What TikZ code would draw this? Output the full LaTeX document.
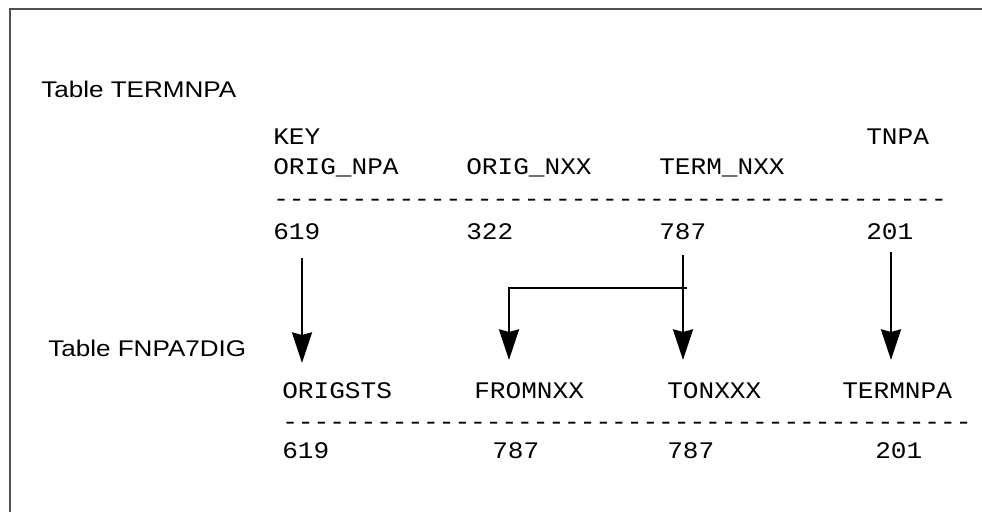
\documentclass[tikz,border=0pt]{standalone}
\usepackage{fontspec}
\usepackage{tikz}
\usetikzlibrary{arrows.meta, calc}
\newfontfamily\policetitre{Liberation Sans}[FakeStretch=1.15]
\newfontfamily\policecode{Liberation Mono}[FakeStretch=1.1]
\definecolor{cadregris}{HTML}{505050}
\newcommand\tirets[1]{\foreach \k in {1,...,#1}{-\kern0pt}}
\tikzset{
  titre/.style={anchor=base west, inner sep=0pt,
    font=\policetitre\fontsize{17pt}{20pt}\selectfont},
  champ/.style={anchor=base west, inner sep=0pt,
    font=\policecode\fontsize{17.8pt}{20pt}\selectfont},
  fleche/.style={-{Stealth[length=23pt, width=15pt, inset=2pt]}, line width=1.5pt},
  cadre/.style={line width=0.8pt, color=cadregris}
}

\begin{document}
\begin{tikzpicture}[x=0.75pt, y=-0.75pt]
    \useasboundingbox (0,0) rectangle (982,512);
    % Cadre
    \draw[cadre] (982,9) -- (10,9) -- (10,512);

    % Table TERMNPA
    \node[titre] (ttermnpa) at (41,97) {Table TERMNPA};
    \node[champ] (tkey) at (273,144) {KEY};
    \node[champ] (ttnpa) at (866,144) {TNPA};
    \node[champ] (torignpa) at (273,174) {ORIG\_NPA};
    \node[champ] (torignxx) at (466,174) {ORIG\_NXX};
    \node[champ] (ttermnxx) at (659,174) {TERM\_NXX};
    \node[champ] (ttirets) at (273,206) {\tirets{43}};
    \node[champ] (t619) at (273,239) {619};
    \node[champ] (t322) at (466,239) {322};
    \node[champ] (t787) at (659,239) {787};
    \node[champ] (t201) at (866,239) {201};

    % Table FNPA7DIG
    \node[titre] (tfnpa) at (48,356) {Table FNPA7DIG};
    \node[champ] (borigsts) at (282,398) {ORIGSTS};
    \node[champ] (bfromnxx) at (474,398) {FROMNXX};
    \node[champ] (btonxxx) at (667,398) {TONXXX};
    \node[champ] (btermnpa) at (842,398) {TERMNPA};
    \node[champ] (btirets) at (282,429) {\tirets{44}};
    \node[champ] (b619) at (282,458) {619};
    \node[champ] (b787a) at (492,458) {787};
    \node[champ] (b787b) at (667,458) {787};
    \node[champ] (b201) at (875,458) {201};

    % Fleches
    \draw[fleche] ($(t619.base west)+(29,19)$) -- ($(borigsts.base west)+(20,-35)$);
    \draw[fleche] ($(t787.base west)+(24,16)$) -- ($(btonxxx.base west)+(16,-38)$);
    \draw[fleche] ($(t787.base west)+(28,49)$) -| ($(bfromnxx.base west)+(35,-38)$);
    \draw[fleche] ($(t201.base west)+(25,13)$) -- ($(btermnpa.base west)+(49,-38)$);
\end{tikzpicture}
\end{document}
